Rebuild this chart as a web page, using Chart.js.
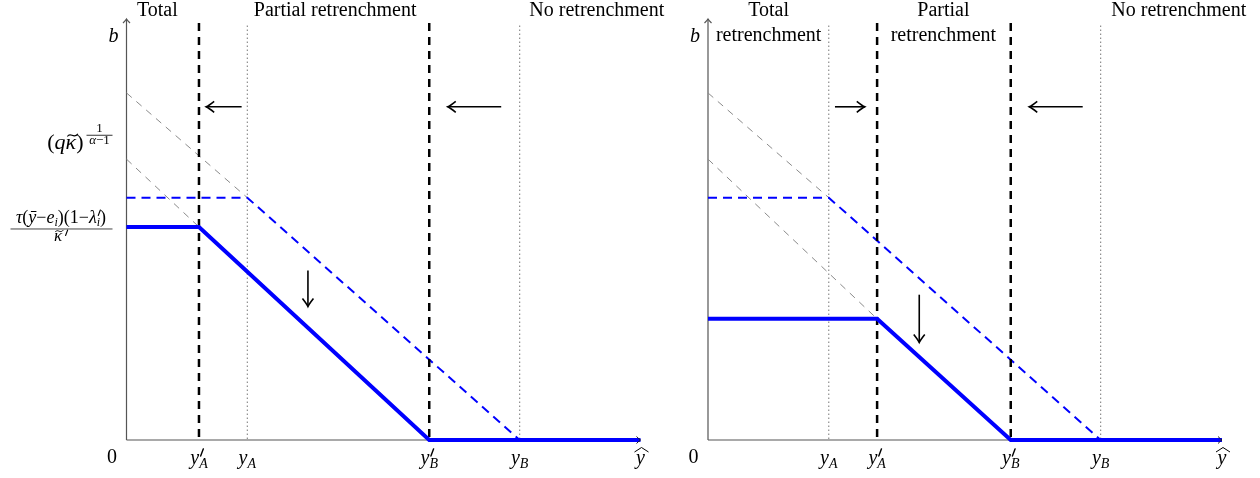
<!DOCTYPE html>
<html>
<head>
<meta charset="utf-8">
<script src="https://cdn.jsdelivr.net/npm/chart.js@4.4.1/dist/chart.umd.min.js"></script>
<style>
  body { margin: 0; background: #fff; }
  .panel { position: absolute; top: 0; height: 478px; }
</style>
</head>
<body>
<div class="panel" style="left:0;width:680px"><canvas id="leftChart" width="680" height="478"></canvas></div>
<div class="panel" style="left:680px;width:580px"><canvas id="rightChart" width="580" height="478"></canvas></div>
<script>
const X_MAX = 10;
const Y_MAX = 8.2;
const CUT_TOP = 8.12;

const tickNames = ["y'_A", "y_A", "y'_B", "y_B"];

// left panel: y'_A, y_A, y'_B, y_B
const leftTicks = [1.41, 2.35, 5.89, 7.65];
const leftSolidX = [0, 1.41, 5.89, 10];
const leftSolidY = [4.15, 4.15, 0, 0];
const leftDashedX = [0, 2.35, 7.65];
const leftDashedY = [4.72, 4.72, 0];
const leftGuideY0 = [6.76, 5.47];

// right panel
const rightTicks = [3.29, 2.35, 5.89, 7.64];
const rightSolidX = [0, 3.29, 5.89, 10];
const rightSolidY = [2.36, 2.36, 0, 0];
const rightDashedX = [0, 2.35, 7.64];
const rightDashedY = [4.72, 4.72, 0];
const rightGuideY0 = [6.76, 5.47];

const leftRegions = [['Total'], ['Partial retrenchment'], ['No retrenchment']];
const rightRegions = [['Total', 'retrenchment'], ['Partial', 'retrenchment'], ['No retrenchment']];

// arrows: [x0, y0, x1, y1] in data units, head at (x1, y1)
const leftArrows = [[2.24, 6.49, 1.55, 6.49], [7.29, 6.49, 6.25, 6.49], [3.53, 3.30, 3.53, 2.60]];
const rightArrows = [[2.47, 6.49, 3.05, 6.49], [7.29, 6.49, 6.25, 6.49], [4.11, 2.83, 4.11, 1.90]];

const leftYTicks = [5.77, 4.12];

const FONT = "'Liberation Serif', 'Times New Roman', serif";
const BLUE = '#0000ff';

function setFont(ctx, p) {
  ctx.font = (p.it ? 'italic ' : '') + (p.size || 20) + 'px ' + FONT;
}

function drawParts(ctx, x, y, parts, align) {
  let w = 0;
  for (const p of parts) {
    setFont(ctx, p);
    p.w = p.prime ? 0 : ctx.measureText(p.t).width;
    if (!p.keep) w += p.w;
  }
  let cx = align === 'center' ? x - w / 2 : align === 'right' ? x - w : x;
  for (const p of parts) {
    setFont(ctx, p);
    const s = p.size || 20;
    const px = cx + (p.dx || 0), py = y + (p.dy || 0);
    if (p.prime) {
      ctx.save();
      ctx.strokeStyle = '#000';
      ctx.lineWidth = s / 12;
      ctx.lineCap = 'round';
      ctx.beginPath();
      ctx.moveTo(px, py);
      ctx.lineTo(px + s * 0.16, py - s * 0.42);
      ctx.stroke();
      ctx.restore();
    } else {
      ctx.fillText(p.t, px, py);
    }
    if (p.tilde) {
      const ty = py - s * 0.62;
      const x0 = px + s * 0.08, x1 = px + p.w + s * 0.08;
      ctx.save();
      ctx.lineWidth = s / 20;
      ctx.strokeStyle = '#000';
      ctx.beginPath();
      ctx.moveTo(x0, ty + s * 0.06);
      ctx.bezierCurveTo(x0 + (x1 - x0) * 0.3, ty - s * 0.16, x0 + (x1 - x0) * 0.6, ty + s * 0.2, x1, ty - s * 0.06);
      ctx.stroke();
      ctx.restore();
    }
    if (!p.keep) cx += p.w;
  }
  return w;
}

function tickParts(name) {
  const parts = [{ t: 'y', it: true }];
  if (name.includes("'")) parts.push({ prime: true, size: 17, dy: -8, dx: 1.5, keep: true });
  parts.push({ t: name.split('_')[1], it: true, size: 14, dy: 4 });
  return parts;
}

function tip(ctx, x, y, dx, dy, back, half) {
  // open LaTeX-like arrow tip pointing along (dx, dy)
  const nx = -dy, ny = dx;
  ctx.beginPath();
  ctx.moveTo(x - dx * back + nx * half, y - dy * back + ny * half);
  ctx.quadraticCurveTo(x - dx * back * 0.3 + nx * half * 0.2, y - dy * back * 0.3 + ny * half * 0.2, x, y);
  ctx.quadraticCurveTo(x - dx * back * 0.3 - nx * half * 0.2, y - dy * back * 0.3 - ny * half * 0.2,
    x - dx * back - nx * half, y - dy * back - ny * half);
  ctx.stroke();
}

function makeDecor(panel) {
  return {
    id: 'decor',
    beforeDatasetsDraw(chart) {
      const { ctx, scales: { x, y } } = chart;
      const ox = x.getPixelForValue(0), oy = y.getPixelForValue(0);
      ctx.save();
      ctx.strokeStyle = '#555';
      ctx.lineWidth = 1.2;
      ctx.beginPath();
      ctx.moveTo(ox, oy);
      ctx.lineTo(x.getPixelForValue(X_MAX), oy);
      ctx.moveTo(ox, oy);
      ctx.lineTo(ox, y.getPixelForValue(Y_MAX));
      ctx.stroke();
      tip(ctx, ox, y.getPixelForValue(Y_MAX), 0, -1, 4, 3.5);
      ctx.restore();
    },
    afterDatasetsDraw(chart) {
      const { ctx, scales: { x, y } } = chart;
      const ox = x.getPixelForValue(0), oy = y.getPixelForValue(0);
      ctx.save();
      ctx.strokeStyle = '#222';
      ctx.lineWidth = 1;
      tip(ctx, x.getPixelForValue(X_MAX), oy, 1, 0, 4, 3.5);

      ctx.strokeStyle = '#000';
      ctx.lineWidth = 1.6;
      for (const [x0, y0, x1, y1] of panel.arrows) {
        const px0 = x.getPixelForValue(x0), py0 = y.getPixelForValue(y0);
        const px1 = x.getPixelForValue(x1), py1 = y.getPixelForValue(y1);
        const len = Math.hypot(px1 - px0, py1 - py0);
        ctx.beginPath();
        ctx.moveTo(px0, py0);
        ctx.lineTo(px1, py1);
        ctx.stroke();
        tip(ctx, px1, py1, (px1 - px0) / len, (py1 - py0) / len, 8, 5.5);
      }

      ctx.fillStyle = '#000';
      ctx.textBaseline = 'alphabetic';
      panel.regions.forEach((lines, i) => {
        const cx = x.getPixelForValue(panel.regionX[i]);
        lines.forEach((t, j) => drawParts(ctx, cx, 16 + j * 25, [{ t }], 'center'));
      });

      const base = oy + 24;
      tickNames.forEach((name, i) => {
        drawParts(ctx, x.getPixelForValue(panel.ticks[i]), base, tickParts(name), 'center');
      });
      const hx = x.getPixelForValue(X_MAX);
      drawParts(ctx, hx, base, [{ t: 'y', it: true }], 'center');
      ctx.lineWidth = 1;
      ctx.beginPath();
      ctx.moveTo(hx - 6, base - 12);
      ctx.lineTo(hx + 1, base - 16.5);
      ctx.lineTo(hx + 8, base - 12);
      ctx.stroke();

      drawParts(ctx, ox - 14.5, oy + 23, [{ t: '0' }], 'center');
      drawParts(ctx, ox - 13, y.getPixelForValue(Y_MAX) + 23, [{ t: 'b', it: true }], 'center');

      if (panel.yTicks) {
        const p1 = y.getPixelForValue(panel.yTicks[0]);
        drawParts(ctx, ox - 43, p1 + 5, [
          { t: '(', size: 22 }, { t: 'q', it: true, size: 22 },
          { t: '\u03ba', it: true, size: 22, tilde: true }, { t: ')', size: 22 }
        ], 'right');
        drawParts(ctx, ox - 27, p1 - 12, [{ t: '1', size: 13 }], 'center');
        drawParts(ctx, ox - 27, p1 + 0, [{ t: '\u03b1', it: true, size: 13 }, { t: '\u22121', size: 13 }], 'center');
        ctx.lineWidth = 0.8;
        ctx.strokeStyle = '#000';
        ctx.beginPath();
        ctx.moveTo(ox - 40, p1 - 8.5);
        ctx.lineTo(ox - 14, p1 - 8.5);
        ctx.stroke();

        const p2 = y.getPixelForValue(panel.yTicks[1]);
        const fx = ox - 65.5;
        drawParts(ctx, fx, p2 - 5, [
          { t: '\u03c4', it: true, size: 18 }, { t: '(', size: 18 }, { t: '\u0233', it: true, size: 18 },
          { t: '\u2212', size: 18 }, { t: 'e', it: true, size: 18 }, { t: 'i', it: true, size: 12, dy: 3 },
          { t: ')(1\u2212', size: 18 }, { t: '\u03bb', it: true, size: 18 },
          { prime: true, size: 13, dy: -8, dx: 1.5, keep: true }, { t: 'i', it: true, size: 12, dy: 3 },
          { t: ')', size: 18 }
        ], 'center');
        ctx.strokeStyle = '#444';
        ctx.lineWidth = 1;
        ctx.beginPath();
        ctx.moveTo(ox - 116, p2 + 0.5);
        ctx.lineTo(ox - 14, p2 + 0.5);
        ctx.stroke();
        drawParts(ctx, fx - 3, p2 + 13, [
          { t: '\u03ba', it: true, size: 17, tilde: true },
          { prime: true, size: 13, dy: -6, dx: 3.5 }
        ], 'center');
      }
      ctx.restore();
    }
  };
}

function line(xs, ys, style) {
  return Object.assign({
    data: xs.map((v, i) => ({ x: v, y: ys[i] })),
    showLine: true, pointRadius: 0, tension: 0, clip: false
  }, style);
}

const SOLID = { borderColor: BLUE, borderWidth: 4, borderJoinStyle: 'miter' };
const DASHED = { borderColor: BLUE, borderWidth: 2, borderDash: [9, 6] };
const GUIDE = { borderColor: '#8a8a8a', borderWidth: 1, borderDash: [7, 6] };
const CUT_NEW = { borderColor: '#000', borderWidth: 2.5, borderDash: [8, 6] };
const CUT_OLD = { borderColor: '#333', borderWidth: 1, borderDash: [1, 3] };

function build(id, p) {
  const [a1, a, b1, b] = p.ticks;
  const datasets = [
    line(p.solidX, p.solidY, SOLID),
    line([a1, a1], [CUT_TOP, 0], CUT_NEW),
    line([b1, b1], [CUT_TOP, 0], CUT_NEW),
    line(p.dashedX, p.dashedY, DASHED),
    line([a, a], [CUT_TOP - 0.05, 0], CUT_OLD),
    line([b, b], [CUT_TOP - 0.05, 0], CUT_OLD),
    line([0, p.dashedX[1]], [p.guideY0[0], p.dashedY[1]], GUIDE),
    line([0, p.solidX[1]], [p.guideY0[1], p.solidY[1]], GUIDE)
  ];
  return new Chart(document.getElementById(id), {
    type: 'scatter',
    data: { datasets },
    options: {
      responsive: false,
      animation: false,
      events: [],
      layout: { padding: { left: p.padLeft, right: p.padRight, top: 19, bottom: 38 } },
      plugins: { legend: { display: false }, tooltip: { enabled: false } },
      scales: {
        x: { type: 'linear', min: 0, max: X_MAX, display: false },
        y: { type: 'linear', min: 0, max: Y_MAX, display: false }
      }
    },
    plugins: [makeDecor(p)]
  });
}

build('leftChart', {
  ticks: leftTicks, solidX: leftSolidX, solidY: leftSolidY,
  dashedX: leftDashedX, dashedY: leftDashedY, guideY0: leftGuideY0,
  arrows: leftArrows, regions: leftRegions, regionX: [0.6, 4.06, 9.15],
  yTicks: leftYTicks, padLeft: 126.5, padRight: 39.5
});

build('rightChart', {
  ticks: rightTicks, solidX: rightSolidX, solidY: rightSolidY,
  dashedX: rightDashedX, dashedY: rightDashedY, guideY0: rightGuideY0,
  arrows: rightArrows, regions: rightRegions, regionX: [1.18, 4.58, 9.16],
  padLeft: 28, padRight: 38
});
</script>
</body>
</html>
